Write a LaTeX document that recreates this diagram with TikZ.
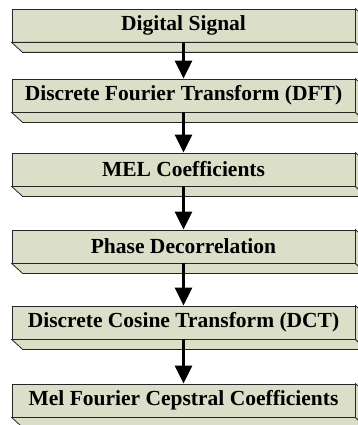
\documentclass[tikz,border=0pt]{standalone}
\usepackage{fontspec}
\setmainfont{Liberation Serif}
\usetikzlibrary{arrows.meta}
\definecolor{boxfill}{RGB}{220,223,199}
\tikzset{
  stage/.style={draw=black!85, fill=boxfill, line width=0.8pt,
    minimum width=343pt, minimum height=33pt, inner sep=0pt,
    font=\fontsize{21.5}{25}\selectfont\bfseries},
  bevel/.style={draw=black!85, fill=boxfill, line width=0.8pt},
  flow/.style={line width=3pt, -{Triangle[width=17pt,length=18pt]}}
}
\begin{document}
\begin{tikzpicture}[x=1pt,y=-1pt]
\useasboundingbox (0,0) rectangle (357,425);
\node[stage] (sig) at (183.5,25.5) {Digital Signal};
\node[stage] (dft) at (183.5,95.5) {Discrete Fourier Transform (DFT)};
\node[stage] (mel) at (183.5,169.5) {MEL Coefficients};
\node[stage] (phase) at (183.5,246.5) {Phase Decorrelation};
\node[stage] (dct) at (183.5,322.5) {Discrete Cosine Transform (DCT)};
\node[stage] (mfcc) at (183.5,400.5) {Mel Fourier Cepstral Coefficients};
% bottom and right faces
\foreach \n in {sig,dft,mel,phase,dct,mfcc}{
  \draw[bevel] (\n.south west) -- ++(11,10) -- ++(343,0) -- (\n.south east) -- cycle;
  \draw[bevel] (\n.north east) -- ++(11,10) -- ++(0,33) -- (\n.south east) -- cycle;
}
\draw[flow] (sig) -- (dft);
\draw[flow] (dft) -- (mel);
\draw[flow] (mel) -- (phase);
\draw[flow] (phase) -- (dct);
\draw[flow] (dct) -- (mfcc);
\end{tikzpicture}
\end{document}
